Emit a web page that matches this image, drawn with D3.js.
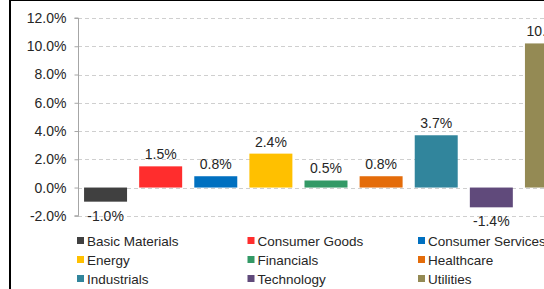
<!DOCTYPE html>
<html>
<head>
<meta charset="utf-8">
<script src="https://cdn.jsdelivr.net/npm/d3@7"></script>
<style>
  html, body { margin: 0; padding: 0; background: #fff; }
  svg { display: block; font-family: Arial, "Liberation Sans", sans-serif; }
</style>
</head>
<body>
<svg id="chart" width="544" height="289"></svg>
<script>
// ── Data ──────────────────────────────────────────────────────────────────
const sectors = ['Basic Materials', 'Consumer Goods', 'Consumer Services', 'Energy',
                 'Financials', 'Healthcare', 'Industrials', 'Technology', 'Utilities'];
const returns = [-1.0, 1.5, 0.8, 2.4, 0.5, 0.8, 3.7, -1.4, 10.2];
const colors  = ['#404040', '#ff2d2d', '#0070c0', '#ffc000', '#339966',
                 '#e46c0a', '#31859c', '#604a7b', '#948a54'];
const yTicks  = [-2, 0, 2, 4, 6, 8, 10, 12];

const svg = d3.select('#chart');
const W = 544, H = 289;

// ── Scales ────────────────────────────────────────────────────────────────
const x = d3.scaleBand().domain(sectors).range([78, 574])
  .paddingInner(0.22).paddingOuter(0.11);
const y = d3.scaleLinear().domain([-2, 12]).range([215.8, 18]);
const fmt = v => v.toFixed(1) + '%';

// ── Frame (cropped outer border) ──────────────────────────────────────────
svg.append('line').attr('x1', 10).attr('x2', 10).attr('y1', 0).attr('y2', H)
  .attr('stroke', '#000').attr('stroke-width', 2);
svg.append('line').attr('x1', 9).attr('x2', W).attr('y1', 0.5).attr('y2', 0.5)
  .attr('stroke', '#000').attr('stroke-width', 1);

// ── Gridlines ─────────────────────────────────────────────────────────────
svg.append('g').selectAll('line').data(yTicks).join('line')
  .attr('x1', 78).attr('x2', W)
  .attr('y1', d => Math.round(y(d)) + 0.5).attr('y2', d => Math.round(y(d)) + 0.5)
  .attr('stroke', '#cfcfcf').attr('stroke-dasharray', '4,3');

// ── Y axis ────────────────────────────────────────────────────────────────
const yAxis = svg.append('g').attr('transform', 'translate(78.5,0)')
  .call(d3.axisLeft(y).tickValues(yTicks).tickFormat(fmt).tickSize(4).tickPadding(8));
yAxis.select('.domain').attr('stroke', '#a6a6a6').attr('d', `M-4,${y(12)}H0V${y(-2)}H-4`);
yAxis.selectAll('.tick line').attr('stroke', '#a6a6a6');
yAxis.selectAll('.tick text').attr('fill', '#262626')
  .style('font-size', '14px').style('font-family', 'Arial, "Liberation Sans", sans-serif');

// ── Bars ──────────────────────────────────────────────────────────────────
const bars = sectors.map((s, i) => ({ sector: s, value: returns[i], color: colors[i] }));

svg.append('g').selectAll('rect').data(bars).join('rect')
  .attr('x', d => x(d.sector))
  .attr('width', x.bandwidth())
  .attr('y', d => y(Math.max(0, d.value)))
  .attr('height', d => Math.abs(y(d.value) - y(0)))
  .attr('fill', d => d.color);

svg.append('g').selectAll('text').data(bars).join('text')
  .attr('x', d => x(d.sector) + x.bandwidth() / 2)
  .attr('y', d => d.value >= 0 ? y(d.value) - 7 : y(d.value) + 19)
  .attr('text-anchor', 'middle')
  .attr('fill', '#262626')
  .style('font-size', '14px')
  .text(d => fmt(d.value));

// ── Legend ────────────────────────────────────────────────────────────────
const legend = svg.append('g');
bars.forEach((d, i) => {
  const col = i % 3, row = Math.floor(i / 3);
  const lx = 77 + col * 170.5, ly = 241 + row * 19;
  legend.append('rect').attr('x', lx).attr('y', ly - 4).attr('width', 7).attr('height', 7)
    .attr('fill', d.color);
  legend.append('text').attr('x', lx + 10).attr('y', ly + 5)
    .attr('fill', '#262626').style('font-size', '13.5px').text(d.sector);
});
</script>
</body>
</html>
